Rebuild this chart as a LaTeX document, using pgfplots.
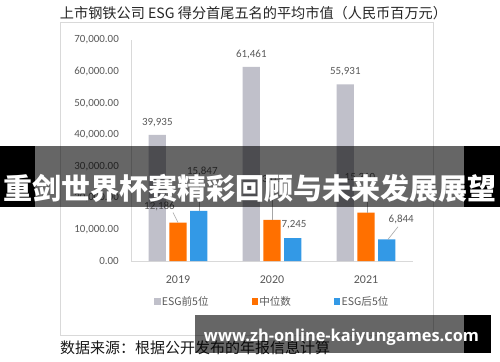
\documentclass[border=0pt]{standalone}
\usepackage{pgfplots}
\pgfplotsset{compat=1.18}
\usepackage{graphicx}
\usepackage{fontspec}
\setmainfont{Carlito}
\newfontfamily\cjk{Noto Sans CJK SC}
\newfontfamily\wm{Open Sans}
\definecolor{cgray}{HTML}{C0C0CA}
\definecolor{corange}{HTML}{FF7000}
\definecolor{cblue}{HTML}{3399E6}
\definecolor{txt}{HTML}{595959}
\definecolor{axl}{HTML}{D9D9D9}
\definecolor{lead}{HTML}{A6A6A6}
\tikzset{lbl/.style={font=\fontsize{11}{13}\selectfont, text=txt, inner sep=0pt},
  ll/.style={lead, line width=0.6bp}}
\begin{document}
\begin{tikzpicture}
\path[use as bounding box] (0,0) rectangle (500bp,-362bp);
\fill[white] (0,0) rectangle (500bp,-362bp);
\begin{scope}[x=1bp,y=-1bp]
\draw[axl, line width=0.8bp] (60,22.7) rectangle (433,335);
\node[inner sep=0pt, text=black!85] at (253.5,13.5) {\resizebox{387bp}{!}{\cjk 上市钢铁公司 ESG 得分首尾五名的平均市值（人民币百万元）}};
\node[inner sep=0pt, anchor=west, text=black!90] at (60,348) {\resizebox{270bp}{!}{\cjk 数据来源：根据公开发布的年报信息计算}};
\end{scope}
\begin{axis}[
  at={(131bp,-261bp)}, anchor=south west,
  scale only axis, width=282bp, height=221bp,
  xmin=-0.5, xmax=2.5, ymin=0, ymax=70000,
  ybar=3.4bp, bar width=17.3bp,
  xtick={0,1,2}, xticklabels={2019,2020,2021},
  ytick={0,10000,20000,30000,40000,50000,60000,70000},
  scaled y ticks=false,
  /pgf/number format/fixed, /pgf/number format/fixed zerofill, /pgf/number format/precision=2,
  /pgf/number format/1000 sep={,}, /pgf/number format/assume math mode=true,
  yticklabel style={anchor=east, inner sep=0pt, xshift=-12bp, font=\fontsize{11}{13}\selectfont, text=txt},
  xticklabel style={anchor=center, inner sep=0pt, yshift=-19bp, font=\fontsize{12}{14}\selectfont, text=txt},
  axis lines*=left,
  axis line style={axl, line width=0.8bp},
  major tick length=0pt,
  clip=false,
  legend columns=3,
  legend style={draw=none, fill=none, at={(axis description cs:0.5,-0.184)}, anchor=center,
    font=\cjk\fontsize{10.6}{13}\selectfont, text=txt,
    /tikz/every even column/.append style={column sep=42bp},
    nodes={inner sep=1.2bp}},
  legend image code/.code={\fill[#1] (0bp,-3bp) rectangle (6.3bp,3.3bp);},
]
\addplot[fill=cgray, draw=none] coordinates {(0,39935) (1,61461) (2,55931)};
\addplot[fill=corange, draw=none] coordinates {(0,12186) (1,13010) (2,15310)};
\addplot[fill=cblue, draw=none] coordinates {(0,15847) (1,7245) (2,6844)};
\legend{ESG前5位,中位数,ESG后5位}
% gray labels
\node[lbl, xshift=-20.7bp, yshift=12.5bp] at (axis cs:0,39935) {39,935};
\node[lbl, xshift=-20.7bp, yshift=12.5bp] at (axis cs:1,61461) {61,461};
\node[lbl, xshift=-20.7bp, yshift=12.5bp] at (axis cs:2,55931) {55,931};
% median labels
\draw[ll] (axis cs:0,12186) -- ([xshift=-5bp,yshift=10bp]axis cs:0,12186);
\node[lbl, xshift=-18.5bp, yshift=15.8bp] at (axis cs:0,12186) {12,186};
\draw[ll] (axis cs:1,13010) -- ([yshift=33bp]axis cs:1,13010);
\node[lbl, yshift=40bp] at (axis cs:1,13010) {13,010};
\draw[ll] ([xshift=1bp]axis cs:2,15310) -- ([xshift=1bp,yshift=27bp]axis cs:2,15310);
\node[lbl, xshift=-6bp, yshift=34.7bp] at (axis cs:2,15310) {15,310};
% bottom-5 labels
\draw[ll] ([xshift=21.5bp]axis cs:0,15847) -- ([xshift=21.5bp,yshift=33bp]axis cs:0,15847);
\node[lbl, xshift=24.3bp, yshift=39.5bp] at (axis cs:0,15847) {15,847};
\node[lbl, xshift=22bp, yshift=13bp] at (axis cs:1,7245) {7,245};
\draw[ll] ([xshift=22bp]axis cs:2,6844) -- ([xshift=32bp,yshift=12.6bp]axis cs:2,6844);
\node[lbl, xshift=35.2bp, yshift=20.4bp] at (axis cs:2,6844) {6,844};
\end{axis}
\begin{scope}[x=1bp,y=-1bp]
% banner overlay
\fill[black, opacity=0.6] (35,146) rectangle (464,207);
\fill[black] (0,146) rectangle (35,207);
\fill[black] (464,146) rectangle (500,207);
\node[inner sep=0pt, text=white] at (250,188) {\resizebox{493bp}{!}{\cjk\bfseries 重剑世界杯赛精彩回顾与未来发展展望}};
% watermark
\fill[black, opacity=0.6] (195,315) rectangle (464,353);
\fill[black] (464,315) rectangle (491,353);
\node[inner sep=0pt, text=white] at (341.5,337.5) {\resizebox{275bp}{!}{\wm\bfseries www.zh-online-kaiyungames.com}};
\end{scope}
\end{tikzpicture}
\end{document}
